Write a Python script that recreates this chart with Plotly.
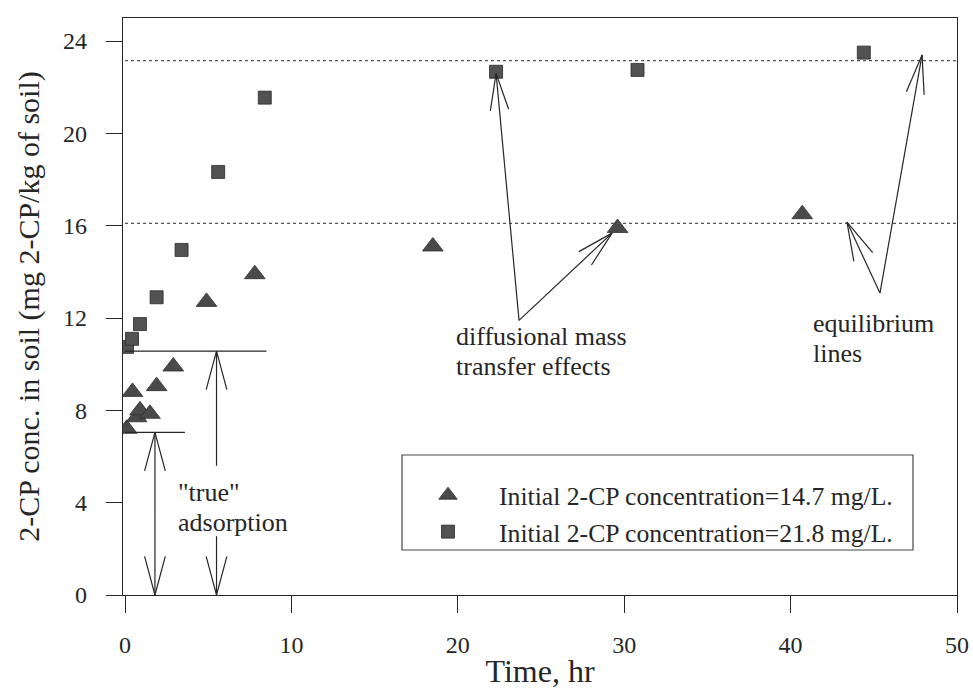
import math
import plotly.graph_objects as go

# Sorbed 2-CP in soil vs. contact time
time_low = [0.1, 0.45, 0.7, 0.9, 1.5, 1.9, 2.9, 4.9, 7.8, 18.5, 29.6, 40.7]
conc_low = [7.2, 8.8, 7.7, 8.0, 7.85, 9.05, 9.9, 12.7, 13.9, 15.1, 15.9, 16.5]

time_high = [0.12, 0.42, 0.9, 1.9, 3.4, 5.6, 8.4, 22.3, 30.8, 44.4]
conc_high = [10.75, 11.1, 11.74, 12.9, 14.95, 18.33, 21.55, 22.67, 22.75, 23.5]

label_low = "Initial 2-CP concentration=14.7 mg/L."
label_high = "Initial 2-CP concentration=21.8 mg/L."

# equilibrium levels and "true" adsorption levels
eq_low, eq_high = 16.1, 23.15
true_low, true_high = 7.05, 10.57

x_ticks = [0, 10, 20, 30, 40, 50]
y_ticks = [0, 4, 8, 12, 16, 20, 24]

# ---- layout geometry ----
W, H = 973, 692
ML, MR, MT, MB = 123, 16, 18, 97
XR = [-0.12, 50]
YR = [0, 25]
PW, PH = W - ML - MR, H - MT - MB
KX = PW / (XR[1] - XR[0])
KY = PH / (YR[1] - YR[0])

FONT = "Liberation Serif"
INK = "#262626"

fig = go.Figure()

fig.add_trace(go.Scatter(
    x=time_low, y=conc_low, mode="markers", name=label_low,
    marker=dict(symbol="triangle-up", size=18, color="#4a4a4a",
                line=dict(color="#2e2e2e", width=0.8)),
))
fig.add_trace(go.Scatter(
    x=time_high, y=conc_high, mode="markers", name=label_high,
    marker=dict(symbol="square", size=13, color="#525252",
                line=dict(color="#2a2a2a", width=0.8)),
))

shapes = []

# dotted equilibrium lines
for lvl in (eq_low, eq_high):
    shapes.append(dict(type="line", xref="x", yref="y", x0=0, x1=50, y0=lvl, y1=lvl,
                       line=dict(color="#555", width=1.3, dash="dot")))

# solid plateau lines for the "true" adsorption levels
shapes.append(dict(type="line", xref="x", yref="y", x0=0, x1=3.6, y0=true_low, y1=true_low,
                   line=dict(color=INK, width=1.2)))
shapes.append(dict(type="line", xref="x", yref="y", x0=0, x1=8.5, y0=true_high, y1=true_high,
                   line=dict(color=INK, width=1.2)))


def arrow(x0, y0, x1, y1, head_len=40, half_angle=15):
    """Line from tail (x0, y0) to tip (x1, y1) with an open V head at the tip."""
    shapes.append(dict(type="line", xref="x", yref="y", x0=x0, y0=y0, x1=x1, y1=y1,
                       line=dict(color=INK, width=1.2)))
    dx, dy = (x1 - x0) * KX, (y1 - y0) * KY
    n = math.hypot(dx, dy)
    ux, uy = dx / n, dy / n
    for s in (1, -1):
        a = math.radians(half_angle) * s
        rx = ux * math.cos(a) - uy * math.sin(a)
        ry = ux * math.sin(a) + uy * math.cos(a)
        hx = x1 - head_len * rx / KX
        hy = y1 - head_len * ry / KY
        shapes.append(dict(type="line", xref="x", yref="y", x0=x1, y0=y1, x1=hx, y1=hy,
                           line=dict(color=INK, width=1.2)))


# "true" adsorption arrows
arrow(1.8, 3.5, 1.8, true_low)
arrow(1.8, 3.5, 1.8, 0)
arrow(5.5, 5.6, 5.5, true_high)
arrow(5.5, 2.55, 5.5, 0)

# diffusional mass transfer arrows
arrow(23.68, 11.9, 22.3, 22.6, head_len=38, half_angle=14)
arrow(23.68, 11.9, 29.27, 15.68, head_len=38, half_angle=14)

# equilibrium line arrows
arrow(45.37, 13.08, 43.39, 16.16, head_len=40, half_angle=15)
arrow(45.37, 13.08, 47.9, 23.4, head_len=40, half_angle=13)

# legend frame
def px_to_paper(px, py):
    return (px - ML) / PW, (H - MB - py) / PH

lx0, ly1 = px_to_paper(402, 455)
lx1, ly0 = px_to_paper(913, 550)
shapes.append(dict(type="rect", xref="paper", yref="paper", x0=lx0, x1=lx1, y0=ly0, y1=ly1,
                   line=dict(color="#444", width=1.2), fillcolor="rgba(0,0,0,0)"))

annotations = []
for txt, x, y in [('"true"', 3.1, 4.42), ("adsorption", 3.1, 3.12),
                  ("diffusional mass", 19.83, 11.2), ("transfer effects", 19.83, 9.9),
                  ("equilibrium", 41.29, 11.78), ("lines", 41.29, 10.48)]:
    annotations.append(dict(x=x, y=y, xref="x", yref="y", text=txt, showarrow=False,
                            xanchor="left", yanchor="middle", borderpad=0,
                            font=dict(family=FONT, size=26, color=INK)))

lgx, lgy = px_to_paper(397, 472)

fig.update_layout(
    width=W, height=H,
    margin=dict(l=ML, r=MR, t=MT, b=MB, autoexpand=False),
    paper_bgcolor="white", plot_bgcolor="white",
    font=dict(family=FONT, color=INK),
    shapes=shapes,
    annotations=annotations,
    showlegend=True,
    legend=dict(x=lgx, y=lgy, xanchor="left", yanchor="top",
                bgcolor="rgba(0,0,0,0)", borderwidth=0,
                font=dict(family=FONT, size=25.7, color=INK),
                itemwidth=92, tracegroupgap=0),
    xaxis=dict(range=XR, tickmode="array", tickvals=x_ticks, ticktext=[str(v) for v in x_ticks],
               ticks="outside", ticklen=17, tickwidth=1.2, tickcolor=INK,
               showline=True, linecolor=INK, linewidth=1.3, mirror=True,
               showgrid=False, zeroline=False, automargin=False,
               tickfont=dict(family=FONT, size=24, color=INK), ticklabelstandoff=11,
               title=dict(text="Time, hr", font=dict(family=FONT, size=32, color=INK), standoff=2)),
    yaxis=dict(range=YR, tickmode="array", tickvals=y_ticks, ticktext=[str(v) for v in y_ticks],
               ticks="outside", ticklen=16, tickwidth=1.2, tickcolor=INK,
               showline=True, linecolor=INK, linewidth=1.3, mirror=True,
               showgrid=False, zeroline=False, automargin=False,
               tickfont=dict(family=FONT, size=24, color=INK), ticklabelstandoff=14,
               title=dict(text="2-CP conc. in soil (mg 2-CP/kg of soil)",
                          font=dict(family=FONT, size=30, color=INK), standoff=14)),
)

fig.write_html("out.html")
